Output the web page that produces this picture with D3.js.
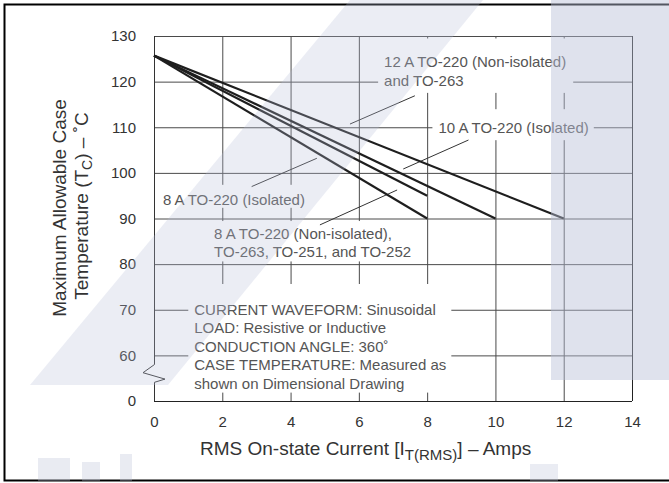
<!DOCTYPE html>
<html>
<head>
<meta charset="utf-8">
<script src="https://cdn.jsdelivr.net/npm/d3@7"></script>
<style>
  body { margin: 0; background: #fff; }
  svg { display: block; font-family: "Liberation Sans", Arial, sans-serif; }
</style>
</head>
<body>
<div id="chart"></div>
<script>
// Derating curves: max allowable case temperature vs RMS on-state current

const xTicks = [0, 2, 4, 6, 8, 10, 12, 14];
const yTicks = [50, 60, 70, 80, 90, 100, 110, 120, 130];
const yTickLabels = ["0", "60", "70", "80", "90", "100", "110", "120", "130"];

const curve12A = [{a: 0, t: 125.7}, {a: 12, t: 90}];
const curve10A = [{a: 0, t: 125.7}, {a: 10, t: 90}];
const curve8ANonIso = [{a: 0, t: 125.7}, {a: 8, t: 95}];
const curve8AIso = [{a: 0, t: 125.7}, {a: 8, t: 90}];

const curves = [curve12A, curve10A, curve8ANonIso, curve8AIso];

const label12A = ["12 A TO-220 (Non-isolated)", "and TO-263"];
const label10A = ["10 A TO-220 (Isolated)"];
const label8AIso = ["8 A TO-220 (Isolated)"];
const label8ANonIso = ["8 A TO-220 (Non-isolated),", "TO-263, TO-251, and TO-252"];
const noteLines = [
    "CURRENT WAVEFORM: Sinusoidal",
    "LOAD: Resistive or Inductive",
    "CONDUCTION ANGLE: 360˚",
    "CASE TEMPERATURE: Measured as",
    "shown on Dimensional Drawing"
];

const W = 669, H = 483;
const margin = {top: 36, right: 37, bottom: 82, left: 154};
const width = W - margin.left - margin.right;
const height = H - margin.top - margin.bottom;

const svg = d3.select("#chart").append("svg")
    .attr("width", W)
    .attr("height", H);

// outer frame
svg.append("rect")
    .attr("x", 4.5).attr("y", 4.5)
    .attr("width", 720).attr("height", 476)
    .attr("fill", "none")
    .attr("stroke", "#000")
    .attr("stroke-width", 2);

const g = svg.append("g")
    .attr("transform", `translate(${margin.left},${margin.top})`);

const x = d3.scaleLinear().domain([0, 14]).range([0, width]);
const y = d3.scaleLinear().domain([50, 130]).range([height, 0]);

const gridColor = "#4a4a4a";

// horizontal grid lines (60..120)
g.selectAll(".hgrid")
    .data(yTicks.filter(v => v > 50 && v < 130))
    .enter().append("line")
    .attr("x1", 0).attr("x2", width)
    .attr("y1", d => y(d) + 0.5).attr("y2", d => y(d) + 0.5)
    .attr("stroke", gridColor).attr("stroke-width", 1);

// vertical grid lines (2..12)
g.selectAll(".vgrid")
    .data(xTicks.filter(v => v > 0 && v < 14))
    .enter().append("line")
    .attr("x1", d => x(d) + 0.5).attr("x2", d => x(d) + 0.5)
    .attr("y1", 0).attr("y2", height)
    .attr("stroke", gridColor).attr("stroke-width", 1);

// label boxes that cut the grid
const annotations = [
    {lines: label12A, a: 6.74, t: 123.1, pad: [15, 7, 4, 6],
        leader: [[7.64, 116.9], [5.74, 110.7]]},
    {lines: label10A, a: 8.33, t: 108.7, pad: [10, 5, 4, 6],
        leader: [[9.21, 107.2], [7.30, 100.85]]},
    {lines: label8AIso, a: 0.26, t: 93.0, pad: [6, 4, 0, 4],
        leader: [[2.86, 97.0], [4.77, 103.2]]},
    {lines: label8ANonIso, a: 1.76, t: 85.5, pad: [4, 5, 1, 6],
        leader: [[4.86, 88.6], [7.12, 96.25]]},
    {lines: noteLines, a: 1.18, t: 68.85, pad: [17, 5, 1, 6], leader: null}
];

const lineGap = 18.4;
const annoColor = "#555";

annotations.forEach(an => {
    const bg = g.append("rect").attr("fill", "#fff");
    const txt = g.append("text")
        .attr("x", x(an.a))
        .attr("y", y(an.t))
        .attr("font-size", 15)
        .attr("fill", annoColor);
    an.lines.forEach((l, i) => {
        txt.append("tspan")
            .attr("x", x(an.a))
            .attr("dy", i === 0 ? 0 : lineGap)
            .text(l);
    });
    const b = txt.node().getBBox();
    bg.attr("x", b.x - an.pad[3])
        .attr("y", b.y - an.pad[0])
        .attr("width", b.width + an.pad[1] + an.pad[3])
        .attr("height", b.height + an.pad[0] + an.pad[2]);
});

// border: top, right, bottom and broken left axis
g.append("line").attr("x1", 0).attr("x2", width).attr("y1", 0.5).attr("y2", 0.5)
    .attr("stroke", gridColor);
g.append("line").attr("x1", width + 0.5).attr("x2", width + 0.5).attr("y1", 0).attr("y2", height)
    .attr("stroke", "#222");
g.append("line").attr("x1", 0).attr("x2", width).attr("y1", height + 0.5).attr("y2", height + 0.5)
    .attr("stroke", "#222");

const breakPath = d3.line()([
    [0.5, 0], [0.5, y(58)], [-11, y(56.2)], [11, y(54.8)], [0.5, y(54.1)], [0.5, height]
]);
g.append("path")
    .attr("d", breakPath)
    .attr("fill", "none")
    .attr("stroke", "#333")
    .attr("stroke-width", 1);

// leader lines
annotations.filter(an => an.leader).forEach(an => {
    g.append("line")
        .attr("x1", x(an.leader[0][0])).attr("y1", y(an.leader[0][1]))
        .attr("x2", x(an.leader[1][0])).attr("y2", y(an.leader[1][1]))
        .attr("stroke", "#333")
        .attr("stroke-width", 1);
});

// curves
const line = d3.line().x(d => x(d.a)).y(d => y(d.t));
g.selectAll(".curve")
    .data(curves)
    .enter().append("path")
    .attr("d", line)
    .attr("fill", "none")
    .attr("stroke", "#1e1e1e")
    .attr("stroke-width", 2.2);

// tick labels via axes
const xAxis = d3.axisBottom(x).tickValues(xTicks).tickSize(0).tickPadding(15);
g.append("g")
    .attr("transform", `translate(0,${height})`)
    .call(xAxis)
    .call(s => s.select(".domain").remove())
    .selectAll("text")
    .attr("font-size", 15)
    .attr("font-family", "Liberation Sans, Arial, sans-serif")
    .attr("fill", "#333");

const yAxis = d3.axisLeft(y).tickValues(yTicks)
    .tickFormat((d, i) => yTickLabels[i])
    .tickSize(0).tickPadding(18);
g.append("g")
    .call(yAxis)
    .call(s => s.select(".domain").remove())
    .selectAll("text")
    .attr("font-size", 15)
    .attr("font-family", "Liberation Sans, Arial, sans-serif")
    .attr("fill", "#333");

// axis titles
const xTitle = svg.append("text")
    .attr("x", 200)
    .attr("y", 455)
    .attr("font-size", 19)
    .attr("fill", "#333");
xTitle.append("tspan").text("RMS On-state Current [I");
xTitle.append("tspan").attr("dy", 5).attr("font-size", 15).text("T(RMS)");
xTitle.append("tspan").attr("dy", -5).text("] – Amps");

const yTitleX = [66, 88];
svg.append("text")
    .attr("transform", `translate(${yTitleX[0]},208) rotate(-90)`)
    .attr("text-anchor", "middle")
    .attr("font-size", 19)
    .attr("fill", "#333")
    .text("Maximum Allowable Case");
const yt = svg.append("text")
    .attr("transform", `translate(${yTitleX[1]},206) rotate(-90)`)
    .attr("text-anchor", "middle")
    .attr("font-size", 19)
    .attr("fill", "#333");
yt.append("tspan").text("Temperature (T");
yt.append("tspan").attr("dy", 4).attr("font-size", 14).text("C");
yt.append("tspan").attr("dy", -4).text(") – ˚C");

// faint watermark on top
const wm = svg.append("g").attr("fill", "#b8bfd6")
    .style("pointer-events", "none");
wm.append("path").attr("opacity", 0.28)
    .attr("d", "M30,385 L168,385 L483,0 L350,0 Z");
wm.append("rect").attr("opacity", 0.45)
    .attr("x", 551).attr("y", 0).attr("width", 118).attr("height", 380);
const wmLetters = wm.append("g").attr("opacity", 0.3);
wmLetters.append("rect").attr("x", 38).attr("y", 458).attr("width", 32).attr("height", 23);
wmLetters.append("rect").attr("x", 82).attr("y", 462).attr("width", 18).attr("height", 19);
wmLetters.append("rect").attr("x", 120).attr("y", 454).attr("width", 12).attr("height", 27);
wmLetters.append("rect").attr("x", 530).attr("y", 464).attr("width", 28).attr("height", 17);
</script>
</body>
</html>
